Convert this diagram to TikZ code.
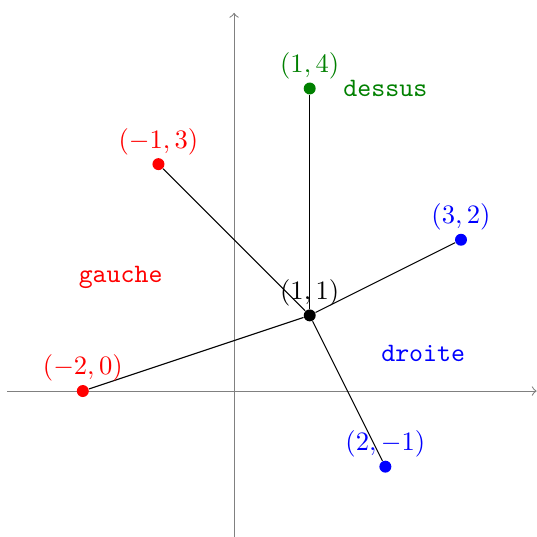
\documentclass[tikz,border=0pt]{standalone}
\begin{document}
\begin{tikzpicture}[dot/.style={circle,fill=#1,inner sep=0pt,minimum size=4.5pt},
  vlab/.style={above,text=#1}]
\useasboundingbox (-3.095,-1.92) rectangle (4.005,5.17);
\draw[->,gray] (-3,0) -- (4,0);
\draw[->,gray] (0,-2) -- (0,5);
\node[dot=black] (c) at (1,1) {};
\node[dot=red] (g1) at (-1,3) {};
\node[dot=red] (g2) at (-2,0) {};
\node[dot=green!50!black] (h) at (1,4) {};
\node[dot=blue] (d1) at (3,2) {};
\node[dot=blue] (d2) at (2,-1) {};
\draw (c) -- (g1);
\draw (c) -- (g2);
\draw (c) -- (h);
\draw (c) -- (d1);
\draw (c) -- (d2);
\node[vlab=black] (lc) at (c.center) {$(1,1)$};
\node[vlab=red] (lg1) at (g1.center) {$(-1,3)$};
\node[vlab=red] (lg2) at (g2.center) {$(-2,0)$};
\node[vlab=green!50!black] (lh) at (h.center) {$(1,4)$};
\node[vlab=blue] (ld1) at (d1.center) {$(3,2)$};
\node[vlab=blue] (ld2) at (d2.center) {$(2,-1)$};
\node[text=green!50!black] (tdessus) at (2,4) {\texttt{dessus}};
\node[text=red] (tgauche) at (-1.5,1.5) {\texttt{gauche}};
\node[text=blue] (tdroite) at (2.5,0.5) {\texttt{droite}};
\end{tikzpicture}
\end{document}
